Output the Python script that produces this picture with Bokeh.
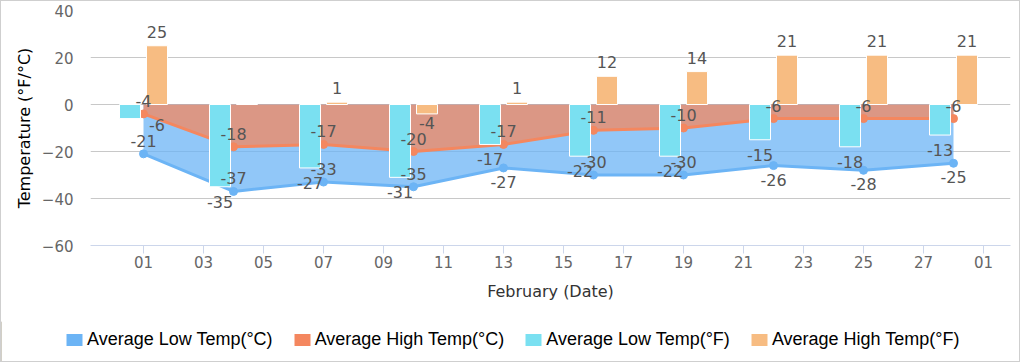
from bokeh.plotting import figure
from bokeh.layouts import column
from bokeh.models import ColumnDataSource, Range1d, FixedTicker, Legend, LegendItem
from bokeh.core.properties import value
from bokeh.embed import file_html
from bokeh.resources import INLINE

# ---------------- data ----------------
days = [1, 4, 7, 10, 13, 16, 19, 22, 25, 28]
low_c = [-21, -37, -33, -35, -27, -30, -30, -26, -28, -25]
high_c = [-4, -18, -17, -20, -17, -11, -10, -6, -6, -6]
low_f = [-6, -35, -27, -31, -17, -22, -22, -15, -18, -13]
high_f = [25, 0, 1, -4, 1, 12, 14, 21, 21, 21]

series_names = ["Average Low Temp(°C)", "Average High Temp(°C)",
                "Average Low Temp(°F)", "Average High Temp(°F)"]

tick_days = [1, 3, 5, 7, 9, 11, 13, 15, 17, 19, 21, 23, 25, 27, 29]
tick_labels = ["01", "03", "05", "07", "09", "11", "13", "15", "17", "19",
               "21", "23", "25", "27", "01"]
y_ticks = [-60, -40, -20, 0, 20, 40]

x_title = "February (Date)"
y_title = "Temperature (°F/°C)"

# ---------------- style ----------------
BLUE = "#6cb4f5"
SALMON = "#f4875f"
CYAN = "#7ae0f1"
ORANGE = "#f7bc82"
LABEL_COLOR = "#555555"
FONT = "DejaVu Sans"

Y_MIN, Y_MAX = -60, 40
X_MIN, X_MAX = -0.767, 29.9
W = 1018
MAIN_H, LEG_H = 320, 40
FRAME_L, FRAME_T, FRAME_W, FRAME_H = 89, 9, 920, 235
PX = FRAME_H / (Y_MAX - Y_MIN)
BAR_W = 0.7
BAR_OFF = 0.45

p = figure(width=W, height=MAIN_H,
           x_range=Range1d(X_MIN, X_MAX), y_range=Range1d(Y_MIN, Y_MAX),
           output_backend="svg", toolbar_location=None,
           min_border_left=FRAME_L, min_border_right=W - FRAME_L - FRAME_W,
           min_border_top=FRAME_T, min_border_bottom=MAIN_H - FRAME_T - FRAME_H)
p.outline_line_color = None
p.background_fill_color = "white"
p.border_fill_color = "white"

# grid
p.xgrid.grid_line_color = None
p.ygrid.grid_line_color = "#c8c8c8"
p.ygrid.grid_line_width = 1

# x axis
p.xaxis.ticker = FixedTicker(ticks=tick_days)
p.xaxis.major_label_overrides = {d: t for d, t in zip(tick_days, tick_labels)}
p.xaxis.axis_line_color = "#ccd6eb"
p.xaxis.major_tick_line_color = "#ccd6eb"
p.xaxis.major_tick_out = 8
p.xaxis.major_tick_in = 0
p.xaxis.minor_tick_line_color = None
p.xaxis.major_label_text_font = FONT
p.xaxis.major_label_text_font_size = "15px"
p.xaxis.major_label_text_color = "#666666"
p.xaxis.major_label_standoff = 2
p.xaxis.axis_label = x_title
p.xaxis.axis_label_text_font = FONT
p.xaxis.axis_label_text_font_size = "16px"
p.xaxis.axis_label_text_font_style = "normal"
p.xaxis.axis_label_text_color = "#333333"
p.xaxis.axis_label_standoff = 11

# y axis
p.yaxis.ticker = FixedTicker(ticks=y_ticks)
p.yaxis.major_label_overrides = {v: (("\u2212" + str(-v)) if v < 0 else str(v)) for v in y_ticks}
p.yaxis.axis_line_color = None
p.yaxis.major_tick_line_color = None
p.yaxis.minor_tick_line_color = None
p.yaxis.major_tick_out = 0
p.yaxis.major_label_standoff = 17
p.yaxis.major_label_text_font = FONT
p.yaxis.major_label_text_font_size = "15px"
p.yaxis.major_label_text_color = "#666666"
p.yaxis.axis_label = y_title
p.yaxis.axis_label_text_font = FONT
p.yaxis.axis_label_text_font_size = "16px"
p.yaxis.axis_label_text_font_style = "normal"
p.yaxis.axis_label_text_color = "#000000"
p.yaxis.axis_label_standoff = 5

# ---------------- areas ----------------
src = ColumnDataSource(dict(x=days, low_c=low_c, high_c=high_c,
                            zero=[0] * len(days)))
p.varea(x="x", y1="zero", y2="low_c", source=src, fill_color=BLUE, fill_alpha=0.75)
p.varea(x="x", y1="zero", y2="high_c", source=src, fill_color=SALMON, fill_alpha=0.75)

# lines + markers
p.line(x="x", y="low_c", source=src, line_color=BLUE, line_width=3)
p.scatter(x="x", y="low_c", source=src, size=8, fill_color=BLUE, line_color=BLUE)
p.line(x="x", y="high_c", source=src, line_color=SALMON, line_width=3)
p.scatter(x="x", y="high_c", source=src, size=8, fill_color=SALMON, line_color=SALMON)

# ---------------- bars ----------------
bar_src = ColumnDataSource(dict(
    xl=[d - BAR_OFF for d in days], xr=[d + BAR_OFF for d in days],
    low_f=low_f, high_f=high_f, zero=[0] * len(days)))
p.vbar(x="xl", width=BAR_W, bottom="zero", top="low_f", source=bar_src,
       fill_color=CYAN, line_color="white", line_width=1)
p.vbar(x="xr", width=BAR_W, bottom="zero", top="high_f", source=bar_src,
       fill_color=ORANGE, line_color="white", line_width=1)

# ---------------- data labels ----------------
lx, ly, lt, loff = [], [], [], []
for d, c, h, lf, hf in zip(days, low_c, high_c, low_f, high_f):
    # high C: above point
    lx.append(d); ly.append(h); lt.append(str(h)); loff.append(-13)
    # label collision test between low F (below bar end) and low C (above point)
    yf = -lf * PX + 15
    yc = -c * PX - 13
    gap = abs(yf - yc)
    # low F: below bar end; nudged beside the bar when it would sit on the low C label
    if 6 <= gap < 8:
        lx.append(d + BAR_OFF); ly.append(lf); lt.append(str(lf)); loff.append(6)
    else:
        lx.append(d - BAR_OFF); ly.append(lf); lt.append(str(lf)); loff.append(15)
    # low C: above point unless it would collide with the low F label
    lx.append(d); ly.append(c); lt.append(str(c))
    loff.append(14 if gap < 6 else -13)
    # high F: beyond bar end
    if hf != 0:
        lx.append(d + BAR_OFF); ly.append(hf); lt.append(str(hf))
        loff.append(-14 if hf > 0 else 9)

lab_src = ColumnDataSource(dict(x=lx, y=ly, t=lt, off=loff))
p.text(x="x", y="y", text="t", y_offset="off", source=lab_src,
       text_font=value(FONT), text_font_size="16px", text_color=LABEL_COLOR,
       text_align="center", text_baseline="middle")

# ---------------- legend (separate strip below the chart) ----------------
lg = figure(width=W, height=LEG_H, x_range=Range1d(0, 1), y_range=Range1d(0, 1),
            output_backend="svg", toolbar_location=None,
            x_axis_location=None, y_axis_location=None,
            min_border_left=0, min_border_right=0, min_border_top=0, min_border_bottom=0)
lg.grid.visible = False
lg.outline_line_color = None
lg.background_fill_color = "white"
lg.border_fill_color = "white"
for fig in (p, lg):
    try:
        fig.frame_align = False
    except AttributeError:
        pass

swatch_colors = [BLUE, SALMON, CYAN, ORANGE]
items = []
for name, col in zip(series_names, swatch_colors):
    # legend-only swatch renderer, kept outside the visible range
    r = lg.vbar(x=[-10], top=[1], width=0.1, fill_color=col, line_color=None)
    items.append(LegendItem(label=name, renderers=[r]))

legend = Legend(items=items, orientation="horizontal", location=(63, 11),
                glyph_width=20, glyph_height=15, label_standoff=3, spacing=19,
                padding=0, margin=0, border_line_color=None,
                background_fill_alpha=0,
                label_text_font="Liberation Sans", label_text_font_size="18px",
                label_text_color="#000000", label_height=18)
lg.add_layout(legend, "center")

layout = column(p, lg, spacing=0)
layout.styles = {"border": "1px solid #cfcfcf"}

open("out.html", "w").write(file_html(layout, INLINE))
